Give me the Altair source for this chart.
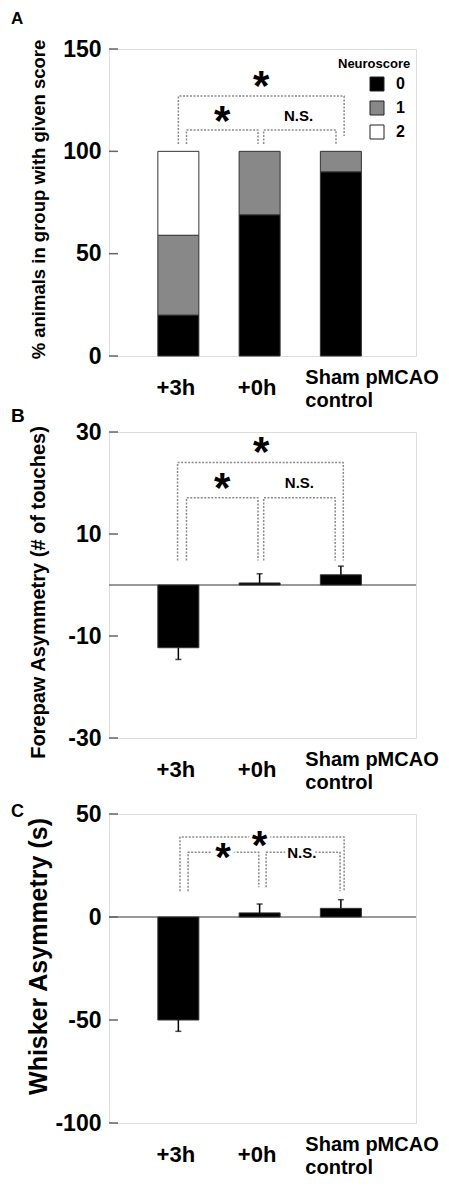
import altair as alt
import pandas as pd

FONT = "Liberation Sans"

# ---------------- data ----------------
groups = ["+3h", "+0h", "Sham pMCAO|control"]
group_pos = [1, 2, 3]

# Panel A: % animals with each neuroscore
scores = ["0", "1", "2"]
pct_score0 = [20, 69, 90]
pct_score1 = [39, 31, 10]
pct_score2 = [41, 0, 0]
ticks_a = [0, 50, 100, 150]

# Panel B: forepaw asymmetry
forepaw_mean = [-12.3, 0.4, 2.0]
forepaw_sem = [2.3, 1.8, 1.7]
ticks_b = [-30, -10, 10, 30]

# Panel C: whisker asymmetry
whisker_mean = [-50.0, 2.0, 4.2]
whisker_sem = [5.5, 4.3, 4.2]
ticks_c = [-100, -50, 0, 50]

# significance brackets (x in group units, y in data units)
br_a = dict(x0=[1.0, 1.10, 2.05], x1=[3.04, 1.98, 2.94], top=[127, 110.4, 110.4],
            bl=[103.6, 103.6, 103.6], br=[107.5, 103.6, 103.6])
br_b = dict(x0=[0.99, 1.10, 2.05], x1=[3.03, 1.98, 2.93], top=[24.0, 17.1, 17.1],
            bl=[4.8, 4.8, 4.8], br=[4.8, 4.8, 4.8])
br_c = dict(x0=[1.02, 1.12, 2.08], x1=[3.04, 1.99, 2.99], top=[38.8, 31.4, 31.4],
            bl=[12.5, 12.5, 14.4], br=[12.5, 14.4, 12.5])

# significance labels
sig_text = ["*", "*", "N.S."]
sig_a = dict(x=[2.02, 1.54, 2.48], y=[134.3, 117.2, 116.3])
sig_b = dict(x=[2.02, 1.54, 2.49], y=[27.0, 20.0, 19.8])
sig_c = dict(x=[2.00, 1.55, 2.52], y=[36.5, 30.7, 30.2])

X_DOMAIN = [0.208, 3.863]
W = 307

xscale = alt.Scale(domain=X_DOMAIN, nice=False, zero=False)
label_expr = "split([" + ",".join("'%s'" % g for g in groups) + "][datum.value - 1], '|')"
IS_SHAM = "datum.value == 3"
x_axis = alt.Axis(
    values=group_pos, labelExpr=label_expr, title=None, ticks=False, tickSize=0,
    domain=False, grid=False, labelBaseline="alphabetic",
    labelPadding={"condition": {"test": IS_SHAM, "value": 27}, "value": 38},
    labelFont=FONT, labelFontWeight="bold", labelColor="black",
    labelFontSize={"condition": {"test": IS_SHAM, "value": 20}, "value": 22},
    labelAlign={"condition": {"test": IS_SHAM, "value": "left"}, "value": "center"},
    labelOffset={"condition": {"test": IS_SHAM, "value": -36}, "value": -3},
    labelLineHeight=23, labelFlush=False, labelOverlap=False, labelBound=False,
)


def y_axis(ticks, title, tsize, title_y):
    return alt.Axis(
        values=ticks, title=title, titleFont=FONT, titleFontWeight="bold",
        titleFontSize=tsize, titleColor="black", titleX=-71, titleY=title_y,
        titleBaseline="middle", titleAlign="center",
        titleAngle=270, labelExpr="'' + datum.value",
        labelFont=FONT, labelFontWeight="bold", labelFontSize=23, labelColor="black",
        labelPadding=8, ticks=False, tickSize=0, domain=False, grid=False,
        labelFlush=False, labelOverlap=False,
    )


def bracket_df(b):
    rows = []
    for i in range(len(b["x0"])):
        pts = [(b["x0"][i], b["bl"][i]), (b["x0"][i], b["top"][i]),
               (b["x1"][i], b["top"][i]), (b["x1"][i], b["br"][i])]
        for k, (x, y) in enumerate(pts):
            rows.append({"bracket": i, "k": k, "x": x, "y": y})
    return pd.DataFrame(rows)


def sig_layers(s, X, Y, star_size, halo=False):
    df = pd.DataFrame({"x": s["x"], "y": s["y"], "t": sig_text})
    stars = df[df.t == "*"]
    ns = df[df.t != "*"]
    layers = []
    variants = [True, False] if halo else [False]
    for h in variants:
        extra = dict(stroke="white", strokeWidth=6, color="white") if h else dict(color="black")
        layers.append(alt.Chart(stars).mark_text(
            font=FONT, fontWeight="bold", fontSize=star_size, baseline="alphabetic",
            dy=star_size * 0.56 - 5, **extra
        ).encode(x=X("x"), y=Y("y"), text="t:N"))
        layers.append(alt.Chart(ns).mark_text(
            font=FONT, fontWeight="bold", fontSize=15, baseline="alphabetic", dy=3.5, **extra
        ).encode(x=X("x"), y=Y("y"), text="t:N"))
    return layers


def common_layers(letter, letter_y, letter_size, ticks, X, Y, brackets):
    tick_rules = alt.Chart(pd.DataFrame({"t": ticks})).mark_rule(
        color="#666", strokeWidth=1.5
    ).encode(y=Y("t"), x=alt.value(0), x2=alt.value(9))
    lines = alt.Chart(bracket_df(brackets)).mark_line(
        color="#8a8a8a", strokeWidth=1.5, strokeDash=[2, 1.5], strokeJoin="round"
    ).encode(x=X("x"), y=Y("y"), detail="bracket:N", order="k:Q")
    let = alt.Chart(pd.DataFrame({"letter": [letter]})).mark_text(
        align="left", baseline="top", fontSize=letter_size, fontWeight="bold", font=FONT, color="black"
    ).encode(text="letter:N", x=alt.value(-98), y=alt.value(letter_y))
    return [tick_rules, lines, let]


def make_encoders(ys, yax):
    def X(f):
        return alt.X(f + ":Q", scale=xscale, axis=x_axis)

    def Y(f):
        return alt.Y(f + ":Q", scale=ys, axis=yax)
    return X, Y


# ---------------- Panel A ----------------
rows = []
for gi, p in enumerate(group_pos):
    base = 0
    for s, vals in zip(scores, [pct_score0, pct_score1, pct_score2]):
        v = vals[gi]
        if v > 0:
            rows.append({"pos": p, "score": s, "y0": base, "y1": base + v})
        base += v
df_a = pd.DataFrame(rows)
ys_a = alt.Scale(domain=[0, 150], nice=False, zero=False)
XA, YA = make_encoders(ys_a, y_axis(ticks_a, "% animals  in group with given score", 18.5, 150))

bars_a = alt.Chart(df_a).mark_bar(size=41, stroke="#333", strokeWidth=1, orient="vertical").encode(
    x=XA("pos"), y=YA("y0"), y2="y1:Q",
    color=alt.Color("score:N", scale=alt.Scale(domain=scores, range=["#000000", "#888888", "#ffffff"]),
                    legend=alt.Legend(
                        title="Neuroscore", orient="none", legendX=229, legendY=9,
                        symbolType="square", symbolSize=196, symbolStrokeColor="#222",
                        symbolStrokeWidth=1, symbolOffset=31, labelOffset=11,
                        labelFontSize=16, labelFont=FONT, labelFontWeight="bold", labelColor="black",
                        titleFontSize=13, titleFont=FONT, titleFontWeight="bold", titleColor="black",
                        titlePadding=5, rowPadding=6)),
)
panel_a = alt.layer(bars_a, *common_layers("A", -38.5, 17, ticks_a, XA, YA, br_a),
                    *sig_layers(sig_a, XA, YA, 42)).properties(width=W, height=307)


# ---------------- Panels B and C ----------------
def mean_panel(letter, letter_y, letter_size, means, sems, ticks, domain, title, tsize, title_y,
               brackets, sig, height, halo, star):
    ys = alt.Scale(domain=domain, nice=False, zero=False)
    X, Y = make_encoders(ys, y_axis(ticks, title, tsize, title_y))
    ends = [m + (e if m >= 0 else -e) for m, e in zip(means, sems)]
    df = pd.DataFrame({"pos": group_pos, "mean": means, "end": ends, "zero": [0] * len(means)})
    bars = alt.Chart(df).mark_bar(size=41, color="black", stroke="#333", strokeWidth=1,
                                  orient="vertical").encode(x=X("pos"), y=Y("mean"), y2="zero:Q")
    err = alt.Chart(df).mark_rule(color="black", strokeWidth=1.5).encode(
        x=X("pos"), y=Y("mean"), y2="end:Q")
    caps = alt.Chart(df).mark_tick(color="black", orient="horizontal", size=6, thickness=1.5).encode(
        x=X("pos"), y=Y("end"))
    zero = alt.Chart(pd.DataFrame({"z": [0]})).mark_rule(color="#777", strokeWidth=1.5).encode(
        y=Y("z"))
    return alt.layer(zero, bars, err, caps,
                     *common_layers(letter, letter_y, letter_size, ticks, X, Y, brackets),
                     *sig_layers(sig, X, Y, star, halo)).properties(width=W, height=height)


panel_b = mean_panel("B", -25.5, 19, forepaw_mean, forepaw_sem, ticks_b, [-30, 30],
                     "Forepaw Asymmetry (# of touches)", 20, 160, br_b, sig_b, 306, False, 42)
panel_c = mean_panel("C", -11.3, 18, whisker_mean, whisker_sem, ticks_c, [-100, 50],
                     "Whisker Asymmetry (s)", 25, 142, br_c, sig_c, 309, True, 40)

chart = alt.vconcat(panel_a, panel_b, panel_c, spacing=76, bounds="flush").properties(
    padding={"left": 2, "top": 1, "right": 0, "bottom": 0}
).configure_view(stroke="#777", strokeWidth=1.5).configure(background="white")

chart.save("out.html", embed_options={"renderer": "svg", "actions": False})
